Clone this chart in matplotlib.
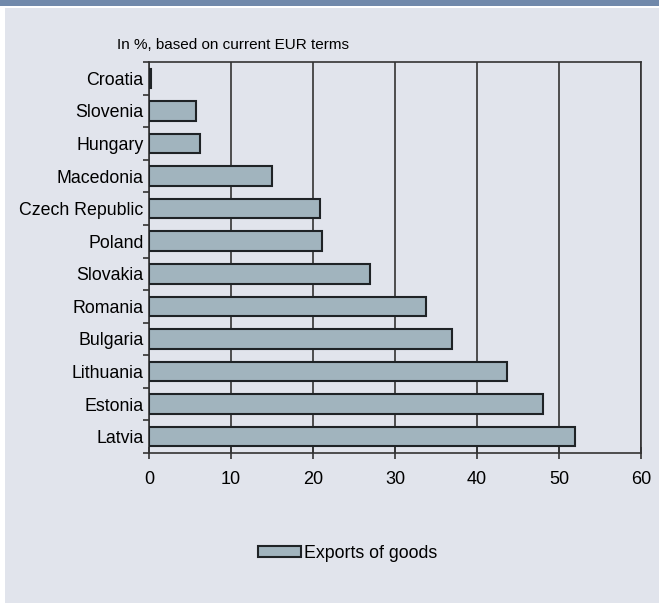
import numpy as np
import matplotlib.pyplot as plt
from matplotlib.patches import Rectangle

# Data
countries = ["Croatia", "Slovenia", "Hungary", "Macedonia", "Czech Republic", "Poland",
             "Slovakia", "Romania", "Bulgaria", "Lithuania", "Estonia", "Latvia"]
exports = [0.25, 5.7, 6.2, 15.0, 20.8, 21.1, 26.9, 33.8, 36.9, 43.6, 48.1, 52.0]
xticks = [0, 10, 20, 30, 40, 50, 60]

bg = "#e1e4ec"
bar_color = "#a1b4be"
edge = "#1f2326"

plt.rcParams['font.family'] = ['Liberation Sans', 'DejaVu Sans']

fig = plt.figure(figsize=(6.59, 6.03), dpi=100)
fig.patch.set_facecolor("white")

# background panel and top banner
fig.add_artist(Rectangle((5 / 659, 0), 1, 1 - 8 / 603, transform=fig.transFigure,
                         facecolor=bg, edgecolor="none", zorder=-2))
fig.add_artist(Rectangle((0, 1 - 6 / 603), 1, 6 / 603, transform=fig.transFigure,
                         facecolor="#7189ab", edgecolor="none", zorder=-1))

ax = fig.add_axes([149 / 659, 1 - 453 / 603, 492 / 659, 391 / 603])
ax.set_facecolor(bg)

y = np.arange(len(countries))
ax.barh(y, exports, height=0.6, color=bar_color, edgecolor=edge, linewidth=1.5, zorder=3,
        label="Exports of goods")

ax.set_xlim(0, 60)
ax.set_ylim(len(countries) - 0.5, -0.5)
ax.set_xticks(xticks)
ax.set_xticklabels([str(v) for v in xticks], fontsize=13)
ax.tick_params(axis="x", direction="inout", length=8, width=1.2, color="#333333", pad=9)

ax.set_yticks(y)
ax.set_yticklabels(countries, fontsize=12.8)
ax.tick_params(axis="y", which="major", length=0, pad=4)
ax.set_yticks(np.arange(len(countries) + 1) - 0.5, minor=True)
ax.tick_params(axis="y", which="minor", direction="out", length=4, width=1.2, color="#333333")

ax.grid(axis="x", color="#333333", linewidth=1.2, zorder=1)
for s in ax.spines.values():
    s.set_color("#333333")
    s.set_linewidth(1.2)

fig.text(117 / 659, 1 - 45 / 603, "In %, based on current EUR terms", fontsize=11,
         va="center", ha="left")

fig.legend(loc="center", bbox_to_anchor=(348 / 659, 1 - 553 / 603), frameon=False,
           fontsize=12.8, handlelength=2.4, handleheight=0.6, handletextpad=0.2)

fig.savefig("out.png", dpi=100, facecolor=fig.get_facecolor())
